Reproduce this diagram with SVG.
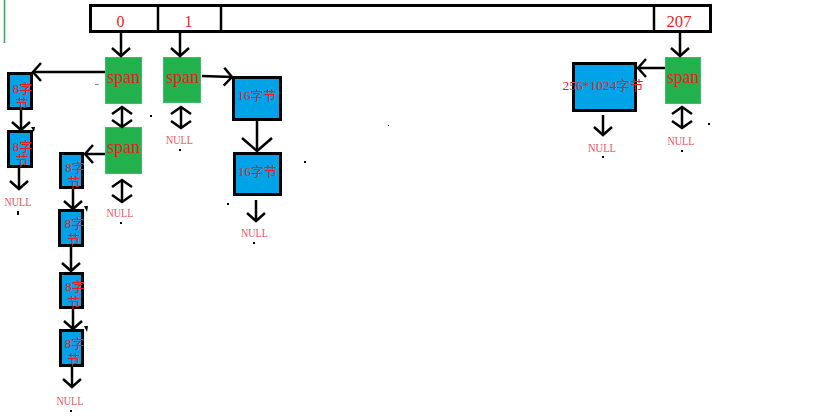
<svg xmlns="http://www.w3.org/2000/svg" width="830" height="417" viewBox="0 0 830 417">
<style>
.bar{fill:#fff;stroke:#000;stroke-width:3}
.span{fill:#22b14c;stroke:#3cbf64;stroke-width:1}
.blk{fill:#00a2e8;stroke:#000;stroke-width:3}
.t{font-family:"Liberation Serif","Noto Sans CJK SC",serif;fill:#ed1c24}
.st{font-size:18px;text-anchor:middle}
.nt{font-size:13px;text-anchor:middle;fill:#f0505a}
.bt{font-size:13px;text-anchor:middle}
.idx{font-size:16px;text-anchor:middle}
.c line{stroke:#000;stroke-width:2.5;fill:none}
.a{marker-end:url(#ah)}
.d{marker-end:url(#ahd);marker-start:url(#ahd)}
.b{marker-end:url(#ahb)}
.dot{fill:#000}
</style>
<defs>
<marker id="ah" markerUnits="userSpaceOnUse" viewBox="-12 -12 15 24" markerWidth="15" markerHeight="24" refX="0" refY="0" orient="auto">
<path d="M-8,-9 L0,0 L-8,9" fill="none" stroke="#000" stroke-width="2.5"/>
</marker>
<marker id="ahd" markerUnits="userSpaceOnUse" viewBox="-12 -13 15 26" markerWidth="15" markerHeight="26" refX="0" refY="0" orient="auto-start-reverse">
<path d="M-7,-10 L0,0 L-7,10" fill="none" stroke="#000" stroke-width="2.5"/>
</marker>
<marker id="ahb" markerUnits="userSpaceOnUse" viewBox="-16 -16 19 32" markerWidth="19" markerHeight="32" refX="0" refY="0" orient="auto">
<path d="M-13,-15 L0,0 L-13,15" fill="none" stroke="#000" stroke-width="2.5"/>
</marker>
</defs>
<rect width="830" height="417" fill="#fff"/>
<line x1="4.5" y1="0" x2="4.5" y2="43" stroke="#22b14c" stroke-width="1.5"/>

<g id="array">
<rect class="bar" x="90.5" y="5.5" width="620" height="26"/>
<line x1="158" y1="5" x2="158" y2="32" stroke="#000" stroke-width="2.5"/>
<line x1="221" y1="5" x2="221" y2="32" stroke="#000" stroke-width="2.5"/>
<line x1="654" y1="5" x2="654" y2="32" stroke="#000" stroke-width="2.5"/>
<text class="t idx" x="120.5" y="27">0</text>
<text class="t idx" x="188.5" y="27">1</text>
<text class="t idx" x="679" y="27" textLength="25" lengthAdjust="spacingAndGlyphs">207</text>
</g>

<g id="span0"><rect class="span" x="105.5" y="57.5" width="36" height="46"/><text class="t st" x="123.5" y="83" textLength="33" lengthAdjust="spacingAndGlyphs">span</text></g>
<g id="span0b"><rect class="span" x="105.5" y="127.5" width="36" height="46"/><text class="t st" x="123.5" y="153" textLength="33" lengthAdjust="spacingAndGlyphs">span</text></g>
<g id="span1"><rect class="span" x="163.5" y="57.5" width="37" height="45"/><text class="t st" x="182.5" y="83" textLength="33" lengthAdjust="spacingAndGlyphs">span</text></g>
<g id="span207"><rect class="span" x="665.5" y="57.5" width="35" height="46"/><text class="t st" x="683" y="83" textLength="32" lengthAdjust="spacingAndGlyphs">span</text></g>

<g id="b8a"><rect class="blk" x="8.5" y="73.5" width="23" height="35"/><text class="t bt" x="22.5" y="93">8字</text><text class="t bt" x="22" y="108">节</text></g>
<g id="b8b"><rect class="blk" x="8.5" y="131.5" width="23" height="35"/><text class="t bt" x="22.5" y="151">8字</text><text class="t bt" x="22" y="165">节</text></g>
<g id="b8c"><rect class="blk" x="60.5" y="153.5" width="22" height="34"/><text class="t bt" x="75" y="172">8字</text><text class="t bt" x="74" y="187">节</text></g>
<g id="b8d"><rect class="blk" x="59.5" y="210.5" width="23" height="35"/><text class="t bt" x="74.5" y="228">8字</text><text class="t bt" x="73.5" y="244">节</text></g>
<g id="b8e"><rect class="blk" x="60.5" y="273.5" width="22" height="34"/><text class="t bt" x="75" y="291">8字</text><text class="t bt" x="74" y="307">节</text></g>
<g id="b8f"><rect class="blk" x="60.5" y="330.5" width="22" height="35"/><text class="t bt" x="74.5" y="348">8字</text><text class="t bt" x="73.5" y="364">节</text></g>
<g id="b16a"><rect class="blk" x="233.5" y="77.5" width="47" height="42"/><text class="t bt" x="257" y="100">16字节</text></g>
<g id="b16b"><rect class="blk" x="234.5" y="153.5" width="46" height="41"/><text class="t bt" x="257.5" y="176">16字节</text></g>
<g id="b256"><rect class="blk" x="573.5" y="63.5" width="62" height="47"/><text class="t bt" x="603" y="90" textLength="81" lengthAdjust="spacingAndGlyphs">256*1024字节</text></g>

<g id="nulls">
<text class="t nt" x="18" y="206" textLength="27" lengthAdjust="spacingAndGlyphs">NULL</text>
<text class="t nt" x="120" y="217" textLength="27" lengthAdjust="spacingAndGlyphs">NULL</text>
<text class="t nt" x="70" y="405" textLength="27" lengthAdjust="spacingAndGlyphs">NULL</text>
<text class="t nt" x="179.5" y="144" textLength="27" lengthAdjust="spacingAndGlyphs">NULL</text>
<text class="t nt" x="254.5" y="237" textLength="27" lengthAdjust="spacingAndGlyphs">NULL</text>
<text class="t nt" x="602" y="152" textLength="28" lengthAdjust="spacingAndGlyphs">NULL</text>
<text class="t nt" x="681" y="145" textLength="27" lengthAdjust="spacingAndGlyphs">NULL</text>
</g>

<g id="connectors" class="c">
<line class="a" x1="121" y1="33" x2="121" y2="56"/>
<line class="a" x1="180" y1="33" x2="180" y2="56"/>
<line class="a" x1="680" y1="33" x2="680" y2="56"/>
<line class="a" x1="105" y1="72" x2="33" y2="72"/>
<line class="a" x1="105" y1="154" x2="85" y2="154"/>
<line class="a" x1="202" y1="76" x2="232" y2="77"/>
<line class="a" x1="665" y1="68" x2="638" y2="68"/>
<line class="d" x1="122" y1="107" x2="122" y2="127"/>
<line class="d" x1="122" y1="180" x2="122" y2="202"/>
<line class="d" x1="181" y1="107" x2="181" y2="128"/>
<line class="d" x1="682" y1="107" x2="682" y2="128"/>
<line class="a" x1="21" y1="110" x2="21" y2="130"/>
<line class="a" x1="73" y1="189" x2="73" y2="209"/>
<line class="a" x1="71" y1="247" x2="71" y2="271"/>
<line class="a" x1="73" y1="309" x2="73" y2="329"/>
<line class="a" x1="19" y1="168" x2="19" y2="189"/>
<line class="a" x1="72" y1="367" x2="72" y2="387"/>
<line class="b" x1="257" y1="121" x2="257" y2="151"/>
<line class="a" x1="256" y1="200" x2="256" y2="221"/>
<line class="a" x1="603" y1="115" x2="603" y2="135"/>
</g>

<g id="marks">
<rect class="dot" x="17" y="211" width="2" height="4"/>
<rect class="dot" x="120" y="222" width="2" height="2"/>
<rect class="dot" x="70" y="410" width="2" height="2"/>
<rect class="dot" x="179" y="149" width="2" height="2"/>
<rect class="dot" x="253" y="242" width="2" height="2"/>
<rect class="dot" x="602" y="156" width="2" height="2"/>
<rect class="dot" x="681" y="150" width="2" height="2"/>
<rect class="dot" x="150" y="115" width="2" height="2"/>
<rect class="dot" x="227" y="203" width="2" height="2"/>
<rect class="dot" x="304" y="161" width="2" height="2"/>
<rect class="dot" x="388" y="125" width="1" height="1"/>
<rect class="dot" x="708" y="123" width="2" height="2"/>
<rect x="95" y="84" width="4" height="1" fill="#999"/>
<path d="M31,127 L35,127 L34,132 Z" fill="#000"/>
<path d="M84,206 L88,206 L87,212 Z" fill="#000"/>
<path d="M84,326 L88,326 L87,332 Z" fill="#000"/>
</g>
</svg>
